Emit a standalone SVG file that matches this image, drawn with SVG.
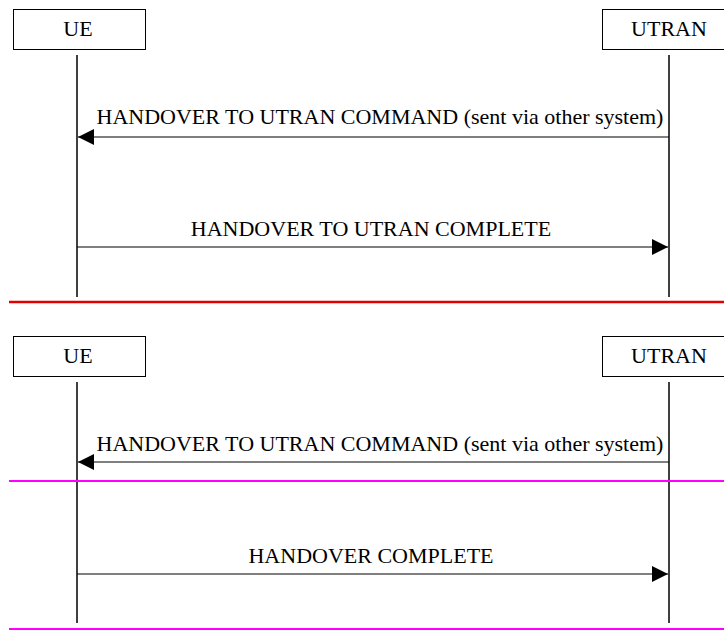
<svg xmlns="http://www.w3.org/2000/svg" width="724" height="630" viewBox="0 0 724 630">
<style>
.box{fill:#fff;stroke:#000;stroke-width:1}
.life{stroke:#000;stroke-width:1.5}
.msg{stroke:#000;stroke-width:1.2;fill:none}
text{font-family:"Liberation Serif","Times New Roman",serif;font-size:22px;fill:#000}
</style>
<defs>
<marker id="ah" markerWidth="16" markerHeight="16" refX="16" refY="8" orient="auto" markerUnits="userSpaceOnUse"><path d="M0,0 L16,8 L0,16 Z" fill="#000"/></marker>
</defs>
<g id="ue1"><rect class="box" x="13.5" y="9.5" width="132" height="40"/><text x="78" y="36" text-anchor="middle">UE</text></g>
<g id="utran1"><rect class="box" x="602.5" y="9.5" width="122" height="40"/><text x="669" y="36" text-anchor="middle">UTRAN</text></g>
<g id="ue2"><rect class="box" x="13.5" y="336.5" width="132" height="40"/><text x="78" y="363" text-anchor="middle">UE</text></g>
<g id="utran2"><rect class="box" x="602.5" y="336.5" width="122" height="40"/><text x="669" y="363" text-anchor="middle">UTRAN</text></g>
<g id="connectors">
<line class="life" x1="77" y1="55" x2="77" y2="297"/>
<line class="life" x1="669" y1="55" x2="669" y2="297"/>
<line class="life" x1="77" y1="382" x2="77" y2="623"/>
<line class="life" x1="669" y1="382" x2="669" y2="623"/>
<line class="msg" x1="669" y1="137" x2="78" y2="137" marker-end="url(#ah)"/>
<line class="msg" x1="77" y1="247" x2="668" y2="247" marker-end="url(#ah)"/>
<line class="msg" x1="669" y1="462" x2="78" y2="462" marker-end="url(#ah)"/>
<line class="msg" x1="77" y1="574" x2="668" y2="574" marker-end="url(#ah)"/>
<line x1="9" y1="302" x2="724" y2="302" stroke="#e00000" stroke-width="2.5"/>
<line x1="9" y1="481" x2="724" y2="481" stroke="#ff00ff" stroke-width="2"/>
<line x1="9" y1="629" x2="724" y2="629" stroke="#ff00ff" stroke-width="2"/>
</g>
<g id="labels">
<text x="380" y="124" text-anchor="middle">HANDOVER TO UTRAN COMMAND (sent via other system)</text>
<text x="371" y="236" text-anchor="middle">HANDOVER TO UTRAN COMPLETE</text>
<text x="380" y="451" text-anchor="middle">HANDOVER TO UTRAN COMMAND (sent via other system)</text>
<text x="371" y="563" text-anchor="middle">HANDOVER COMPLETE</text>
</g>
</svg>
